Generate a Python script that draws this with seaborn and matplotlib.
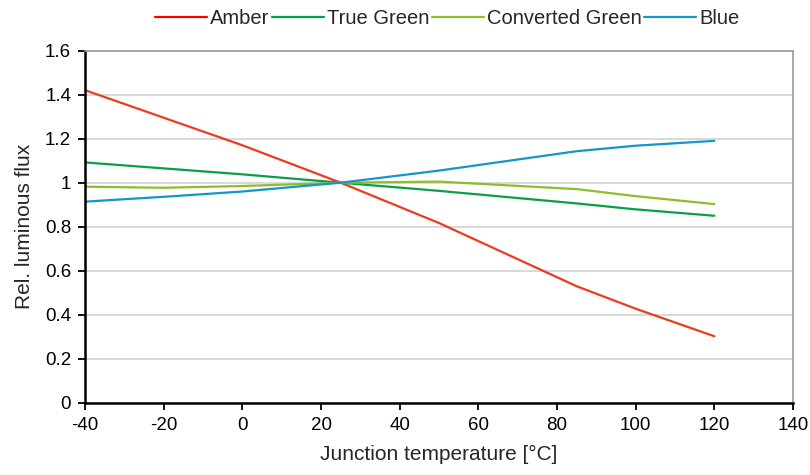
import numpy as np
import pandas as pd
import seaborn as sns
import matplotlib.pyplot as plt
from matplotlib.lines import Line2D

# junction temperature points (°C)
temps = [-40, -20, 0, 25, 50, 85, 100, 120]

# relative luminous flux per colour
amber = [1.42, 1.295, 1.17, 1.00, 0.817, 0.53, 0.428, 0.303]
true_green = [1.092, 1.065, 1.038, 1.00, 0.963, 0.906, 0.879, 0.85]
converted_green = [0.982, 0.977, 0.985, 1.00, 1.005, 0.971, 0.939, 0.903]
blue = [0.914, 0.936, 0.960, 1.00, 1.055, 1.143, 1.168, 1.19]

names = ["Amber", "True Green", "Converted Green", "Blue"]
colors = ["#EE3B1E", "#0A9E48", "#8CBE2C", "#1497C8"]
legend_colors = ["#FF0000", "#0A9E48", "#8CBE2C", "#1497C8"]

df = pd.DataFrame({"temp": temps, "Amber": amber, "True Green": true_green,
                   "Converted Green": converted_green, "Blue": blue})
df = df.melt("temp", var_name="series", value_name="flux")

sns.set_style("white")
plt.rcParams["font.family"] = ["Liberation Sans", "DejaVu Sans"]
plt.rcParams["axes.unicode_minus"] = False

fig = plt.figure(figsize=(8.1, 4.75), dpi=100)
ax = fig.add_axes([0.105, 0.1516, 0.874, 0.742])

sns.lineplot(data=df, x="temp", y="flux", hue="series", hue_order=names,
             palette=colors, linewidth=1.6, legend=False, ax=ax)

ax.set_xlim(-40, 140)
ax.set_ylim(0, 1.6)
ax.set_xticks(np.arange(-40, 141, 20))
ax.set_yticks(np.arange(0, 1.61, 0.2))
ax.set_yticklabels(["0", "0.2", "0.4", "0.6", "0.8", "1", "1.2", "1.4", "1.6"])
ax.yaxis.grid(True, color="#d9d9d9", linewidth=1.4)
ax.set_axisbelow(True)
ax.tick_params(axis="both", labelsize=13.5, length=5, width=1.3,
               direction="out", colors="black", bottom=True, left=True)
ax.tick_params(axis="x", pad=5)
ax.tick_params(axis="y", pad=5)

for s in ["left", "bottom"]:
    ax.spines[s].set_color("black")
    ax.spines[s].set_linewidth(1.8)
for s in ["top", "right"]:
    ax.spines[s].set_color("#999999")
    ax.spines[s].set_linewidth(1.2)

ax.set_xlabel("Junction temperature [°C]", fontsize=15, labelpad=8)
ax.set_ylabel("Rel. luminous flux", fontsize=15, labelpad=8)

handles = [Line2D([], [], color=c, linewidth=1.6) for c in legend_colors]
fig.legend(handles, names, loc="upper center", bbox_to_anchor=(0.552, 1.02),
           ncol=4, frameon=False, fontsize=14.5, handlelength=2.6,
           handletextpad=0.15, columnspacing=0.1)

fig.savefig("out.png", dpi=100)
